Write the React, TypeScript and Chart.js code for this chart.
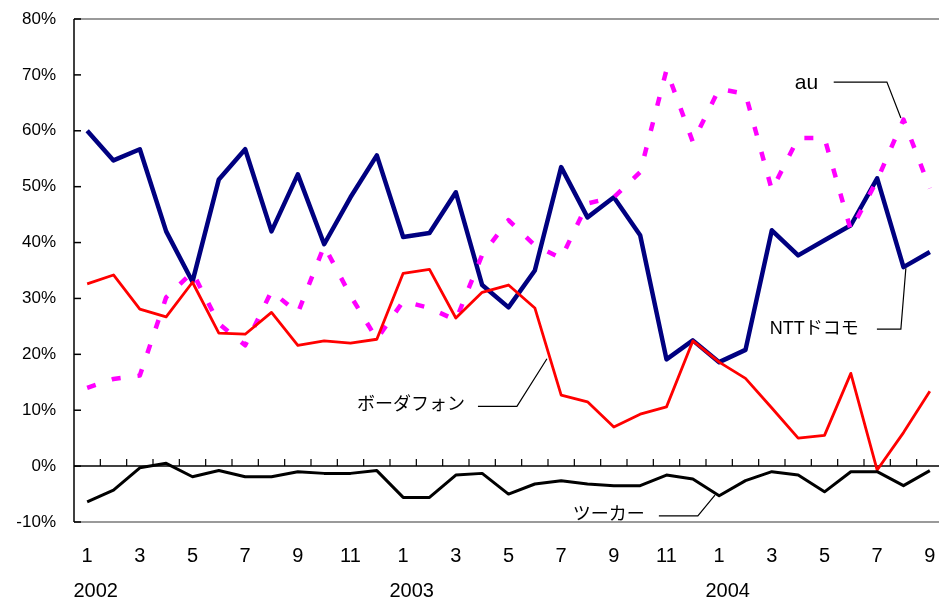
import React, { useEffect, useRef } from 'react';
import { Chart, registerables } from 'chart.js';

Chart.register(...registerables);

// Monthly series, Jan 2002 – Sep 2004 (percent)
const months = [
  '1', '2', '3', '4', '5', '6', '7', '8', '9', '10', '11', '12',
  '1', '2', '3', '4', '5', '6', '7', '8', '9', '10', '11', '12',
  '1', '2', '3', '4', '5', '6', '7', '8', '9',
];
const years = ['2002', '2003', '2004'];

const docomo = [
  60, 54.7, 56.7, 42, 33, 51.3, 56.7, 42, 52.2, 39.7, 48.1, 55.6,
  41, 41.7, 49, 32.4, 28.4, 35, 53.5, 44.5, 48.1, 41.3, 19.1, 22.5,
  18.6, 20.8, 42.2, 37.7, 40.4, 43.1, 51.5, 35.6, 38.3,
];
const au = [
  14, 15.6, 16.2, 30.2, 34.7, 25.5, 21.6, 31.3, 27.4, 39.4, 30.5, 22.7,
  29.5, 28.3, 26.1, 37.8, 44, 39.5, 37.2, 47, 48.1, 52.6, 70.9, 58,
  67.5, 66.6, 49.4, 58.7, 58.7, 42.2, 51.2, 62, 49.7,
];
const vodafone = [
  32.6, 34.2, 28.1, 26.7, 32.9, 23.8, 23.6, 27.5, 21.6, 22.4, 22, 22.7,
  34.5, 35.2, 26.5, 31.1, 32.4, 28.3, 12.7, 11.5, 7, 9.3, 10.6, 22.4,
  18.6, 15.7, 10.4, 5, 5.5, 16.6, -0.7, 6, 13.4,
];
const tuka = [
  -6.4, -4.3, -0.3, 0.5, -1.9, -0.8, -1.9, -1.9, -1, -1.3, -1.3, -0.8,
  -5.6, -5.6, -1.6, -1.3, -5, -3.2, -2.6, -3.2, -3.5, -3.5, -1.6, -2.3,
  -5.3, -2.6, -1, -1.6, -4.6, -1, -1, -3.5, -0.8,
];

const FONT = '"Liberation Sans", Arial, "Noto Sans CJK JP", sans-serif';

// Series name labels with leader lines, in data coordinates (category index, percent)
type Callout = { text: string; size: number; at: [number, number]; path: [number, number][] };
const callouts: Callout[] = [
  { text: 'au', size: 21, at: [26.87, 68.5], path: [[28.35, 68.7], [30.37, 68.7], [30.9, 62.3]] },
  { text: 'NTTドコモ', size: 18, at: [25.92, 24.5], path: [[29.99, 24.5], [30.9, 24.5], [31.09, 35.4]] },
  { text: 'ボーダフォン', size: 18, at: [10.25, 10.9], path: [[14.84, 10.7], [16.32, 10.7], [17.46, 19.2]] },
  { text: 'ツーカー', size: 18, at: [18.44, -8.7], path: [[21.71, -8.9], [23.19, -8.9], [23.84, -5.2]] },
];

const framePlugin = {
  id: 'frame',
  beforeDatasetsDraw(chart: any) {
    const { ctx, chartArea: a } = chart;
    const x = chart.scales.x;
    const y = chart.scales.y;
    const seg = (x1: number, y1: number, x2: number, y2: number) => {
      ctx.beginPath();
      ctx.moveTo(x1, y1);
      ctx.lineTo(x2, y2);
      ctx.stroke();
    };
    ctx.save();
    ctx.strokeStyle = '#9a9a9a';
    ctx.lineWidth = 2;
    seg(a.left, a.top, a.right, a.top);
    seg(a.left, a.bottom, a.right, a.bottom);

    ctx.strokeStyle = '#000';
    ctx.lineWidth = 1.5;
    seg(a.left, a.top, a.left, a.bottom);
    for (const t of y.ticks) {
      const py = y.getPixelForValue(t.value);
      seg(a.left, py, a.left + 7, py);
    }
    const y0 = y.getPixelForValue(0);
    seg(a.left, y0, a.right, y0);
    ctx.lineWidth = 1.2;
    for (let i = 1; i < months.length; i++) {
      const px = x.getPixelForValue(i - 0.5);
      seg(px, y0, px, y0 - 7);
    }
    ctx.restore();
  },
  afterDraw(chart: any) {
    const { ctx } = chart;
    const x = chart.scales.x;
    const y = chart.scales.y;
    ctx.save();
    ctx.fillStyle = '#000';
    ctx.textBaseline = 'middle';
    ctx.textAlign = 'center';
    ctx.font = `20px ${FONT}`;
    let yi = 0;
    months.forEach((m, i) => {
      if (m === '1' && yi < years.length) {
        ctx.fillText(years[yi], x.getPixelForValue(i) + 8.5, 591);
        yi++;
      }
    });

    ctx.textAlign = 'left';
    ctx.strokeStyle = '#000';
    ctx.lineWidth = 1.2;
    for (const c of callouts) {
      ctx.font = `${c.size}px ${FONT}`;
      ctx.fillText(c.text, x.getPixelForValue(c.at[0]), y.getPixelForValue(c.at[1]));
      ctx.beginPath();
      c.path.forEach(([i, v], k) => {
        const px = x.getPixelForValue(i);
        const py = y.getPixelForValue(v);
        if (k === 0) ctx.moveTo(px, py);
        else ctx.lineTo(px, py);
      });
      ctx.stroke();
    }
    ctx.restore();
  },
};

export default function App() {
  const ref = useRef<HTMLCanvasElement | null>(null);

  useEffect(() => {
    if (!ref.current) return;
    const chart = new Chart(ref.current, {
      type: 'line',
      data: {
        labels: months,
        datasets: [
          {
            label: 'ツーカー', data: tuka, borderColor: '#000000', borderWidth: 3,
            order: 0,
          },
          {
            label: 'ボーダフォン', data: vodafone, borderColor: '#ff0000', borderWidth: 2.8,
            order: 1,
          },
          {
            label: 'au', data: au, borderColor: '#ff00ff', borderWidth: 4.5,
            borderDash: [9, 17], borderCapStyle: 'butt', order: 2,
          },
          {
            label: 'NTTドコモ', data: docomo, borderColor: '#000080', borderWidth: 4.5,
            order: 3,
          },
        ],
      },
      options: {
        responsive: false,
        animation: false,
        devicePixelRatio: 1,
        layout: { padding: { top: 19, left: 0, right: 0, bottom: 0 } },
        elements: {
          point: { radius: 0, hoverRadius: 0 },
          line: { tension: 0, borderJoinStyle: 'round', fill: false },
        },
        plugins: {
          legend: { display: false },
          tooltip: { enabled: false },
        },
        scales: {
          x: {
            type: 'category',
            offset: true,
            grid: { display: false, drawTicks: false },
            border: { display: false },
            ticks: {
              autoSkip: false,
              maxRotation: 0,
              padding: 22,
              color: '#000',
              font: { family: FONT, size: 20 },
              callback: (_v: any, i: number) => (i % 2 === 0 ? months[i] : ''),
            },
            afterFit: (s: any) => {
              s.height = 81;
              s.paddingLeft = 0;
              s.paddingRight = 0;
            },
          },
          y: {
            min: -10,
            max: 80,
            grid: { display: false, drawTicks: false },
            border: { display: false },
            ticks: {
              stepSize: 10,
              padding: 18,
              color: '#000',
              font: { family: FONT, size: 17 },
              callback: (v: any) => `${v}%`,
            },
            afterFit: (s: any) => {
              s.width = 74;
              s.paddingTop = 0;
              s.paddingBottom = 0;
            },
          },
        },
      },
      plugins: [framePlugin],
    });
    return () => chart.destroy();
  }, []);

  return (
    <div style={{ position: 'absolute', left: 0, top: 0, width: 939, height: 603, overflow: 'hidden', background: '#fff' }}>
      <canvas ref={ref} width={943} height={603} style={{ display: 'block', width: 943, height: 603 }} />
    </div>
  );
}
